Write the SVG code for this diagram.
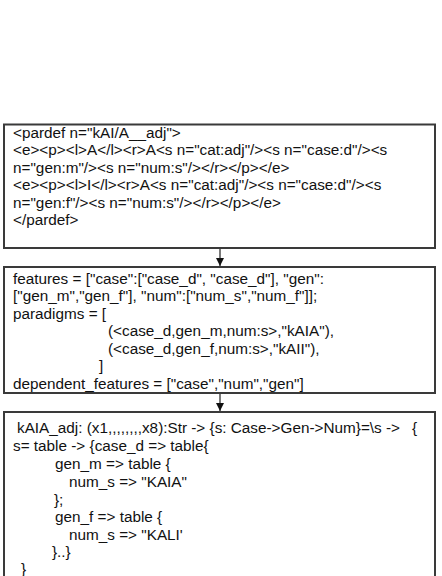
<svg xmlns="http://www.w3.org/2000/svg" width="442" height="576" viewBox="0 0 442 576">
<defs>
<style>
.box{fill:#fff;stroke:#3a3a3a;stroke-width:2}
.t{font-family:"Liberation Sans",Arial,sans-serif;font-size:15.3px;fill:#111;white-space:pre}
.c{stroke:#222;stroke-width:1.2;fill:none}
</style>
<marker id="ah" viewBox="0 0 10 10" refX="10" refY="5" markerWidth="8" markerHeight="8" markerUnits="userSpaceOnUse" orient="auto">
<path d="M0,0 L10,5 L0,10 z" fill="#111"/>
</marker>
</defs>
<rect width="442" height="576" fill="#fff"/>
<g id="connectors">
<line class="c" x1="220" y1="249" x2="220" y2="266" marker-end="url(#ah)"/>
<line class="c" x1="220" y1="394" x2="220" y2="411" marker-end="url(#ah)"/>
</g>
<g id="node-pardef">
<rect class="box" x="4" y="124.5" width="431" height="123.5"/>
<text class="t" x="13" y="137.5">&lt;pardef n="kAI/A__adj"&gt;</text>
<text class="t" x="13" y="155">&lt;e&gt;&lt;p&gt;&lt;l&gt;A&lt;/l&gt;&lt;r&gt;A&lt;s n="cat:adj"/&gt;&lt;s n="case:d"/&gt;&lt;s</text>
<text class="t" x="13" y="172.5">n="gen:m"/&gt;&lt;s n="num:s"/&gt;&lt;/r&gt;&lt;/p&gt;&lt;/e&gt;</text>
<text class="t" x="13" y="190">&lt;e&gt;&lt;p&gt;&lt;l&gt;I&lt;/l&gt;&lt;r&gt;A&lt;s n="cat:adj"/&gt;&lt;s n="case:d"/&gt;&lt;s</text>
<text class="t" x="13" y="207.5">n="gen:f"/&gt;&lt;s n="num:s"/&gt;&lt;/r&gt;&lt;/p&gt;&lt;/e&gt;</text>
<text class="t" x="13" y="225">&lt;/pardef&gt;</text>
</g>
<g id="node-features">
<rect class="box" x="4" y="267" width="431" height="126"/>
<text class="t" x="13" y="283.5">features = ["case":["case_d", "case_d"], "gen":</text>
<text class="t" x="13" y="301">["gen_m","gen_f"], "num":["num_s","num_f"]];</text>
<text class="t" x="13" y="318.5">paradigms = [</text>
<text class="t" x="108" y="336">(&lt;case_d,gen_m,num:s&gt;,"kAIA"),</text>
<text class="t" x="108" y="353.5">(&lt;case_d,gen_f,num:s&gt;,"kAII"),</text>
<text class="t" x="99" y="371">]</text>
<text class="t" x="13" y="388.5">dependent_features = ["case","num","gen"]</text>
</g>
<g id="node-gf">
<rect class="box" x="4" y="412" width="431" height="175"/>
<text class="t" x="17" y="433">kAIA_adj: (x1,,,,,,,,x8):Str -&gt; {s: Case-&gt;Gen-&gt;Num}=\s -&gt;</text>
<text class="t" x="412" y="433">{</text>
<text class="t" x="13" y="451">s= table -&gt; {case_d =&gt; table{</text>
<text class="t" x="55" y="469">gen_m =&gt; table {</text>
<text class="t" x="69" y="487">num_s =&gt; "KAIA"</text>
<text class="t" x="54" y="504.5">};</text>
<text class="t" x="55" y="522">gen_f =&gt; table {</text>
<text class="t" x="69" y="540">num_s =&gt; "KALI'</text>
<text class="t" x="52" y="557">}..}</text>
<text class="t" x="21" y="574">}</text>
</g>
</svg>
